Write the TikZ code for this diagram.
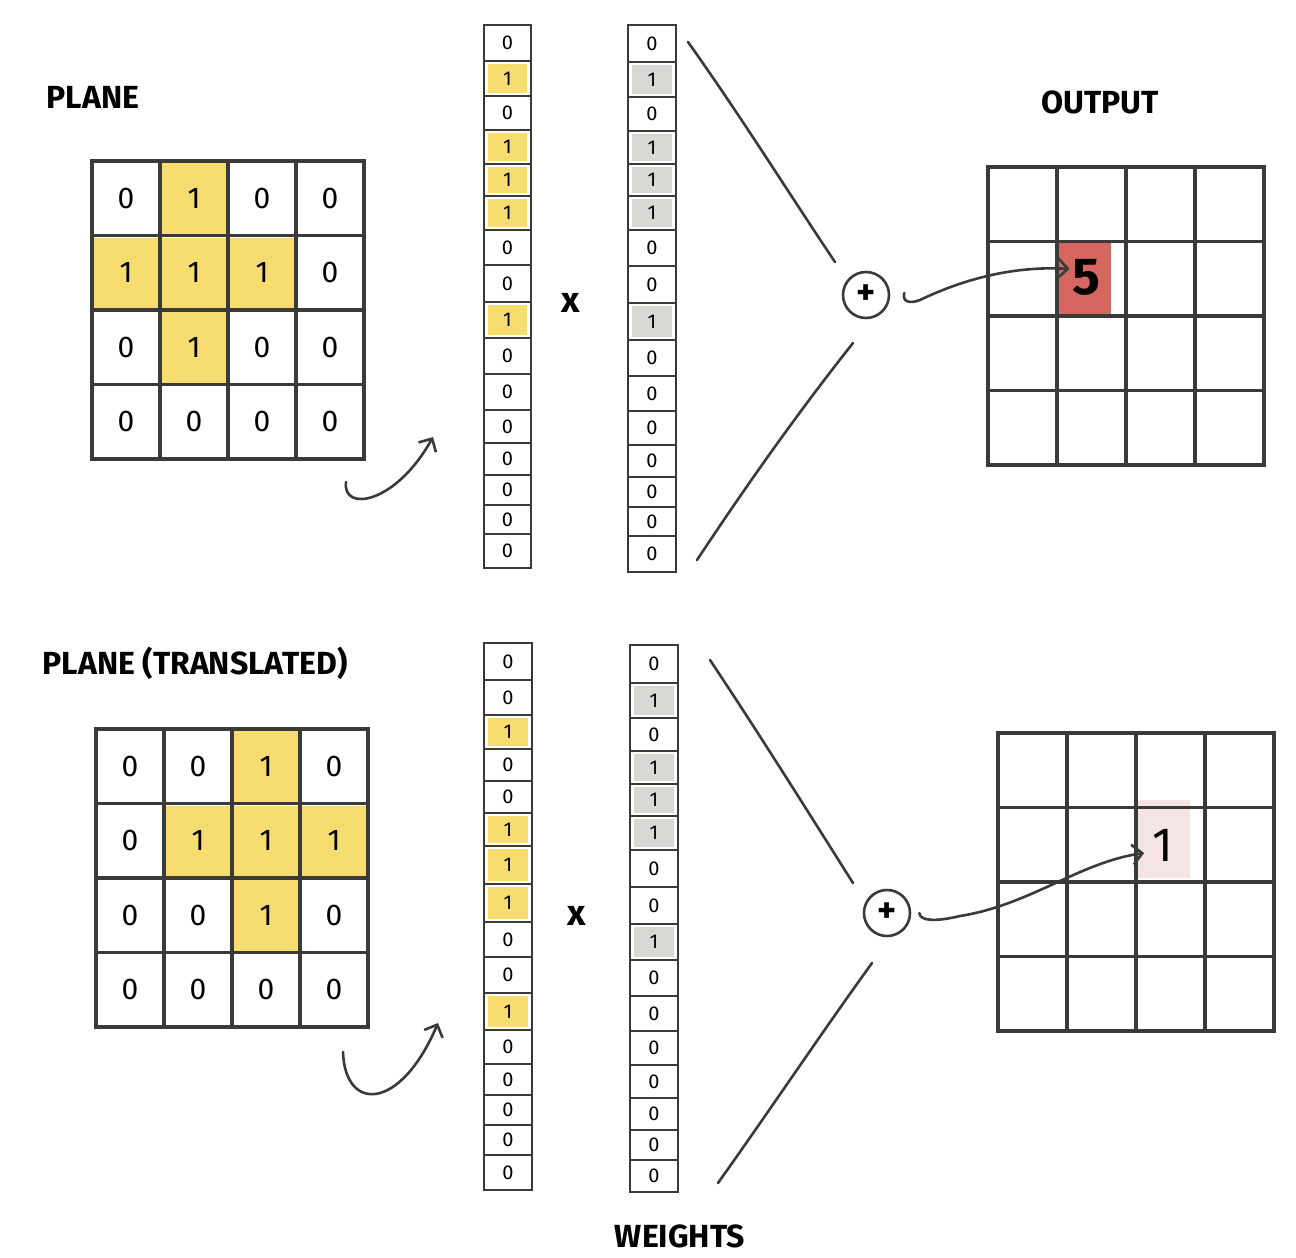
\documentclass[tikz,border=0pt]{standalone}
\usepackage{fontspec}
\setmainfont{Fira Sans}
\usetikzlibrary{arrows.meta}
\definecolor{ink}{RGB}{58,58,56}
\definecolor{hl}{RGB}{247,221,112}
\definecolor{wg}{RGB}{216,216,212}
\definecolor{redcell}{RGB}{214,102,98}
\definecolor{pinkcell}{RGB}{244,228,228}
\newcommand\planegrid[5]{%
  \foreach \v [count=\i from 0] in {#4} {%
    \pgfmathtruncatemacro\rr{div(\i,4)}%
    \pgfmathtruncatemacro\cc{mod(\i,4)}%
    \ifnum\v=1 \fill[#5] ({#2+68*\cc+2},{#3+74.5*\rr+2}) rectangle ({#2+68*(\cc+1)-2},{#3+74.5*(\rr+1)-2});\fi
    \node[gcell] (#1-\rr-\cc) at ({#2+68*(\cc+0.5)},{#3+74.5*(\rr+0.5)}) {\v};
  }}
\newcommand\outgrid[3]{%
  \foreach \rr in {0,...,3} {\foreach \cc in {0,...,3} {%
    \node[gcell,minimum width=34.5pt] (#1-\rr-\cc) at ({#2+69*(\cc+0.5)},{#3+74.5*(\rr+0.5)}) {};
  }}}
\newcommand\vecstack[5]{%
  \foreach \a/\b/\v [count=\i] in {#4} {%
    \ifnum\v=1 \fill[#5] ({#2+4},{\a+3}) rectangle ({#3-4},{\b-3});\fi
    \node[vcell,minimum width={(#3-#2)*0.5pt},minimum height={(\b-\a)*0.5pt}] (#1-\i) at ({(#2+#3)/2},{(\a+\b)/2}) {\v};
  }}
\begin{document}
\begin{tikzpicture}[x=0.5pt,y=-0.5pt,
  ln/.style={draw=ink,line width=1.3pt,line cap=round,line join=round},
  gcell/.style={draw=ink,line width=1.7pt,minimum width=34pt,minimum height=37.25pt,inner sep=0pt,font=\fontsize{15}{15}\selectfont},
  vcell/.style={draw=ink,line width=1.4pt,inner sep=0pt,font=\fontsize{10}{10}\selectfont},
  lbl/.style={font=\fontsize{16}{16}\selectfont\bfseries,text=black,inner sep=0pt},
  barb/.style={-{Straight Barb[length=5pt,width=10pt,line width=1.3pt]}},
  plus/.style={circle,draw=ink,line width=1.3pt,minimum size=23pt,inner sep=0pt,font=\fontsize{18}{18}\selectfont\bfseries},
  times/.style={font=\fontsize{18}{18}\selectfont\bfseries},
]
\useasboundingbox (0,0) rectangle (1296,1258);
\fill[white] (0,0) rectangle (1296,1258);

% labels
\node[lbl] (lplane) at (93,97) {PLANE};
\node[lbl] (lout) at (1100,102) {OUTPUT};
\node[lbl] (lplanet) at (195,663) {PLANE (TRANSLATED)};
\node[lbl] (lw) at (680,1236) {WEIGHTS};

% ---------- top row ----------
\planegrid{pa}{92}{161}{0,1,0,0, 1,1,1,0, 0,1,0,0, 0,0,0,0}{hl}
\vecstack{va}{484}{531}{25/61/0, 61/96/1, 96/130/0, 130/164/1, 164/196/1, 196/230/1, 230/265/0, 265/302/0, 302/338/1, 338/374/0, 374/410/0, 410/443/0, 443/475/0, 475/505/0, 505/534/0, 534/568/0}{hl}
\vecstack{wa}{628}{676}{25/62/0, 62/97/1, 97/131/0, 131/164/1, 164/196/1, 196/230/1, 230/266/0, 266/303/0, 303/340/1, 340/376/0, 376/411/0, 411/445/0, 445/477/0, 477/507/0, 507/536/0, 536/572/0}{wg}
\node[times] (xa) at (571,303) {x};
\node[plus] (plusa) at (866,295) {+};
\fill[redcell] (1056,240) rectangle (1111,314);
\outgrid{oa}{988}{167}
\node[font=\fontsize{26}{26}\selectfont\bfseries,inner sep=1pt] (five) at (1086,277) {5};

\coordinate (la1) at (688,42); \coordinate (la2) at (835,262);
\coordinate (la3) at (853,343); \coordinate (la4) at (697,560);
\draw[ln] (la1) .. controls (740,115) and (790,195) .. (la2);
\draw[ln] (la3) .. controls (800,410) and (750,480) .. (la4);
\coordinate (ha) at (920,300);
\draw[ln,barb] ([xshift=7pt,yshift=1pt]plusa.east) .. controls (902,302) and (910,304) .. (ha) .. controls (970,276) and (1020,266) .. ([yshift=4pt]five.west);

\coordinate (ca1) at (346,482); \coordinate (ca2) at (433,437);
\draw[ln,barb] (ca1) .. controls (342,512) and (395,505) .. (ca2);

% ---------- bottom row ----------
\planegrid{pb}{96}{729}{0,0,1,0, 0,1,1,1, 0,0,1,0, 0,0,0,0}{hl}
\vecstack{vb}{484}{532}{643/680/0, 680/715/0, 715/749/1, 749/781/0, 781/813/0, 813/846/1, 846/884/1, 884/922/1, 922/957/0, 957/993/0, 993/1030/1, 1030/1064/0, 1064/1095/0, 1095/1125/0, 1125/1155/0, 1155/1190/0}{hl}
\vecstack{wb}{630}{678}{645/683/0, 683/718/1, 718/751/0, 751/784/1, 784/816/1, 816/850/1, 850/887/0, 887/924/0, 924/960/1, 960/996/0, 996/1031/0, 1031/1065/0, 1065/1098/0, 1098/1130/0, 1130/1160/0, 1160/1192/0}{wg}
\node[times] (xb) at (577,916) {x};
\node[plus] (plusb) at (887,913) {+};
\fill[pinkcell] (1134,800) rectangle (1190,878);
\outgrid{ob}{998}{733}
\node[font=\fontsize{24}{24}\selectfont,inner sep=1pt] (one) at (1163,845) {1};

\coordinate (lb1) at (710,660); \coordinate (lb2) at (853,883);
\coordinate (lb3) at (872,963); \coordinate (lb4) at (718,1183);
\draw[ln] (lb1) .. controls (760,735) and (810,815) .. (lb2);
\draw[ln] (lb3) .. controls (820,1035) and (770,1110) .. (lb4);
\coordinate (hb) at (960,916);
\draw[ln,barb] ([xshift=4pt]plusb.east) .. controls (920,921) and (935,922) .. (hb) .. controls (1030,905) and (1080,862) .. ([xshift=-3pt,yshift=-4pt]one.west);

\coordinate (cb1) at (343,1052); \coordinate (cb2) at (438,1023);
\draw[ln,barb] (cb1) .. controls (345,1112) and (400,1112) .. (cb2);
\end{tikzpicture}
\end{document}
